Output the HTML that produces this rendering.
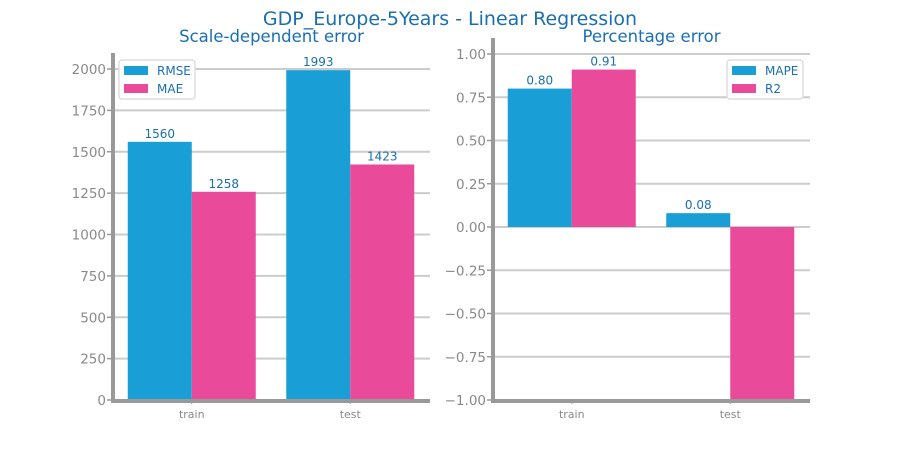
<!DOCTYPE html>
<html><head><meta charset="utf-8"><style>
body{margin:0;background:#fff;font-family:"Liberation Sans","DejaVu Sans",sans-serif}
</style></head><body>
<svg id="c" width="900" height="450" xmlns="http://www.w3.org/2000/svg" font-family="DejaVu Sans, Liberation Sans, sans-serif">
<text x="450" y="25" text-anchor="middle" font-size="19" fill="#1a6fb0">GDP_Europe-5Years - Linear Regression</text>
</svg>
<script>
const categories=["train","test"];
const leftSeriesNames=["RMSE","MAE"];
const leftValues=[[1560,1993],[1258,1423]];
const leftLabels=[["1560","1993"],["1258","1423"]];
const leftTicks=[0,250,500,750,1000,1250,1500,1750,2000];
const rightSeriesNames=["MAPE","R2"];
const rightValues=[[0.80,0.08],[0.91,-1.5]];
const rightLabels=[["0.80","0.08"],["0.91",""]];
const rightTicks=[-1.00,-0.75,-0.50,-0.25,0.00,0.25,0.50,0.75,1.00];
const colors=["#1a9ed6","#ea4a9a"];
const svg=document.getElementById('c');
const NS="http://www.w3.org/2000/svg";
function mk(tag,attrs,parent){const e=document.createElementNS(NS,tag);for(const k in attrs)e.setAttribute(k,attrs[k]);(parent||svg).appendChild(e);return e;}
function panel(cfg){
  const {x0,x1,yTop,yBot,vMin,vMax,ticks,fmt,names,values,labels,title,legendX}=cfg;
  const y=v=>yBot-(Math.max(vMin,Math.min(vMax,v))-vMin)/(vMax-vMin)*(yBot-yTop);
  const g=mk('g',{});
  
  
  const t=mk('text',{x:(x0+x1)/2,y:42,'text-anchor':'middle','font-size':16.5,fill:'#1a6fb0'},g);t.textContent=title;
  
  
  ticks.forEach(v=>{
    const yy=y(v);
    const l=mk('line',{x1:x0,x2:x1,y1:yy,y2:yy,stroke:'#ccc','stroke-width':2},g);
    
    
    mk('line',{x1:x0-6,x2:x0,y1:yy,y2:yy,stroke:'#999','stroke-width':1.5},g);
    const tx=mk('text',{x:x0-7,y:yy+5,'text-anchor':'end','font-size':13.5,fill:'#8a8a8a'},g);tx.textContent=fmt(v);
    
    
  });
  const step=(x1-x0)/categories.length;const bw=64;
  categories.forEach((c,i)=>{
    const cx=x0+step*(i+0.5)-0.5;
    names.forEach((n,s)=>{
      const v=values[s][i];const bx=cx-bw+s*bw;const y0=y(Math.max(0,vMin));const yv=y(v);
      const r=mk('rect',{x:bx,y:Math.min(y0,yv),width:bw,height:Math.abs(y0-yv),fill:colors[s]},g);
      
      
      if(labels[s][i]){const lt=mk('text',{x:bx+bw/2,y:Math.min(y0,yv)-4,'text-anchor':'middle','font-size':12,fill:'#1a6fb0'},g);lt.textContent=labels[s][i];
      
      }
    });
    mk('line',{x1:cx,x2:cx,y1:yBot,y2:yBot+4,stroke:'#999'},g);
    const xl=mk('text',{x:cx,y:yBot+18,'text-anchor':'middle','font-size':11,fill:'#8a8a8a'},g);xl.textContent=c;
    
    
  });
  mk('line',{x1:x0,x2:x0,y1:yTop-16,y2:yBot+2,stroke:'#999','stroke-width':4},g);
  mk('line',{x1:x0-2,x2:x1,y1:yBot+1,y2:yBot+1,stroke:'#999','stroke-width':4},g);
  const lg=mk('g',{},g);
  
  
  mk('rect',{x:legendX,y:60,width:76,height:39,rx:3,fill:'#fff',stroke:'#ddd','stroke-width':1.5},lg);
  names.forEach((n,s)=>{
    mk('rect',{x:legendX+5,y:66+s*18,width:24,height:9,fill:colors[s]},lg);
    const lt=mk('text',{x:legendX+38,y:75+s*18,'font-size':12,fill:'#1a6fb0'},lg);lt.textContent=n;
    
    
  });
}
panel({name:'scale-dependent-panel',x0:113,x1:430,yTop:69,yBot:400,vMin:0,vMax:2000,ticks:leftTicks,fmt:v=>String(v),names:leftSeriesNames,values:leftValues,labels:leftLabels,title:'Scale-dependent error',legendX:119});
panel({name:'percentage-panel',x0:493,x1:810,yTop:54,yBot:400,vMin:-1,vMax:1,ticks:rightTicks,fmt:v=>v.toFixed(2).replace('-','−'),names:rightSeriesNames,values:rightValues,labels:rightLabels,title:'Percentage error',legendX:727});
</script>
</body></html>
